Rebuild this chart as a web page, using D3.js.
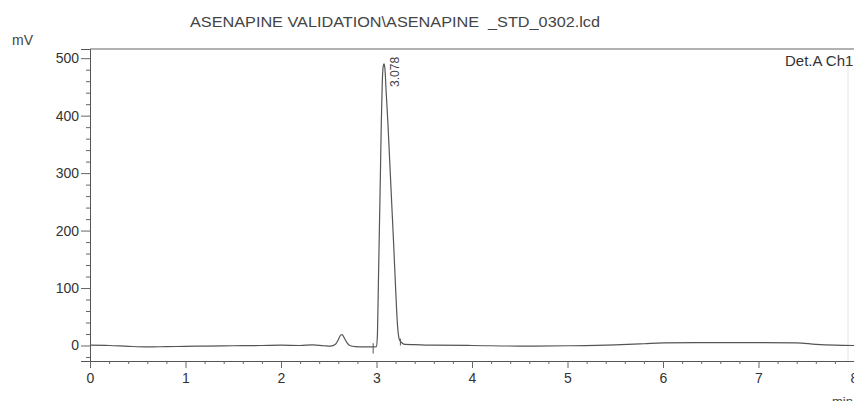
<!DOCTYPE html>
<html>
<head>
<meta charset="utf-8">
<script src="https://cdn.jsdelivr.net/npm/d3@7"></script>
<style>
  body { margin: 0; background: #fff; }
  svg { display: block; font-family: "Liberation Sans", Arial, sans-serif; }
</style>
</head>
<body>
<svg id="chrom" width="854" height="401"></svg>
<script>
// Chromatogram values (time in min, signal in mV)
const times = [0.00, 0.20, 0.40, 0.60, 0.80, 1.00, 1.20, 1.50, 1.80, 2.00, 2.20, 2.33, 2.45, 2.52,
    2.57, 2.60, 2.625, 2.64, 2.66, 2.69, 2.72, 2.78, 2.85, 2.95, 3.000, 3.010, 3.020, 3.030, 3.040,
    3.050, 3.060, 3.070, 3.078, 3.088, 3.100, 3.120, 3.140, 3.160, 3.180, 3.200, 3.220, 3.240, 3.270,
    3.300, 3.400, 3.600, 4.00, 4.50, 5.00, 5.50, 5.80, 6.00, 6.50, 7.00, 7.40, 7.60, 7.80, 8.00];
const signal = [0.5, 0, -1.5, -2.5, -2, -1.5, -1, -0.5, 0, 0.5, 0, 1, -0.5, -1,
    2, 10, 18, 19, 14, 5, 0, -2, -2.5, -2.5, -2, 20, 110, 200, 290,
    385, 455, 486, 490, 482, 445, 385, 315, 245, 175, 100, 35, 10, 4,
    2, 1.5, 0.5, 0, -1, -0.5, 1, 3, 4.5, 5, 5, 4.5, 2, 0.5, 0];

// Peak table
const peakTimes = [3.078];
const peakLabels = ["3.078"];
const peakStart = [2.965];
const peakEnd = [3.25];

const yTicks = [0, 100, 200, 300, 400, 500];
const xTicks = [0, 1, 2, 3, 4, 5, 6, 7, 8];

const title = "ASENAPINE VALIDATION\\ASENAPINE  _STD_0302.lcd";

const svg = d3.select("#chrom"),
    margin = { top: 49, right: 0, bottom: 40, left: 90 },
    width = +svg.attr("width") - margin.left - margin.right,
    height = +svg.attr("height") - margin.top - margin.bottom,
    g = svg.append("g").attr("transform", "translate(" + margin.left + "," + margin.top + ")");

const x = d3.scaleLinear().domain([0, 8]).range([0, width]);
const y = d3.scaleLinear().domain([-27, 516]).range([height, 0]);

// title
svg.append("text")
    .attr("x", 190)
    .attr("y", 27)
    .attr("textLength", 410)
    .attr("lengthAdjust", "spacingAndGlyphs")
    .attr("xml:space", "preserve")
    .style("font-size", "14px")
    .style("fill", "#444")
    .text(title);

// frame top line
g.append("line")
    .attr("x1", 0).attr("x2", width + 10)
    .attr("y1", 0).attr("y2", 0)
    .style("stroke", "#999")
    .style("stroke-width", 1.5);

// faint right edge
g.append("line")
    .attr("x1", 758).attr("x2", 758)
    .attr("y1", 12).attr("y2", height)
    .style("stroke", "#e4e4e4");

// y axis
g.append("g")
    .call(d3.axisLeft(y).tickValues(yTicks).tickSize(9).tickPadding(2));
g.append("g")
    .call(d3.axisLeft(y).tickValues(d3.range(-20, 501, 20).filter(v => v % 100 !== 0)).tickSize(4).tickFormat(""))
    .select(".domain").remove();

// x axis
g.append("g")
    .attr("transform", "translate(0," + height + ")")
    .call(d3.axisBottom(x).tickValues(xTicks).tickSize(7).tickPadding(5));
g.append("g")
    .attr("transform", "translate(0," + height + ")")
    .call(d3.axisBottom(x).tickValues(d3.range(0.2, 8, 0.2).filter(v => Math.abs(v - Math.round(v)) > 0.01)).tickSize(3).tickFormat(""))
    .select(".domain").remove();

g.selectAll(".domain").style("stroke", "#555");
g.selectAll(".tick line").style("stroke", "#666");
g.selectAll(".tick text")
    .style("font-size", "14px")
    .style("fill", "#333")
    .style("font-family", "'Liberation Sans', Arial, sans-serif");

// axis unit labels
svg.append("text")
    .attr("x", 12).attr("y", 45)
    .style("font-size", "14px").style("fill", "#444")
    .text("mV");
svg.append("text")
    .attr("x", 832).attr("y", 406)
    .style("font-size", "13px").style("fill", "#444")
    .text("min");

// detector label
svg.append("text")
    .attr("x", 785).attr("y", 66)
    .style("font-size", "15px").style("fill", "#333")
    .text("Det.A Ch1");

// trace
const line = d3.line()
    .x((d, i) => x(times[i]))
    .y(d => y(d))
    .curve(d3.curveMonotoneX);

g.append("path")
    .datum(signal)
    .attr("d", line)
    .style("fill", "none")
    .style("stroke", "#555")
    .style("stroke-width", 1.2);

// peak start / end markers
peakStart.forEach(t => {
    g.append("line")
        .attr("x1", x(t)).attr("x2", x(t))
        .attr("y1", y(4)).attr("y2", y(-14))
        .style("stroke", "#555");
});
peakEnd.forEach(t => {
    g.append("line")
        .attr("x1", x(t)).attr("x2", x(t))
        .attr("y1", y(12)).attr("y2", y(0))
        .style("stroke", "#555");
});

// retention time labels
peakTimes.forEach((t, i) => {
    g.append("text")
        .attr("transform", "translate(" + (x(t) + 11) + "," + (y(450)) + ") rotate(-90)")
        .attr("dy", "0.35em")
        .style("font-size", "12px")
        .style("fill", "#444")
        .text(peakLabels[i]);
});
</script>
</body>
</html>
